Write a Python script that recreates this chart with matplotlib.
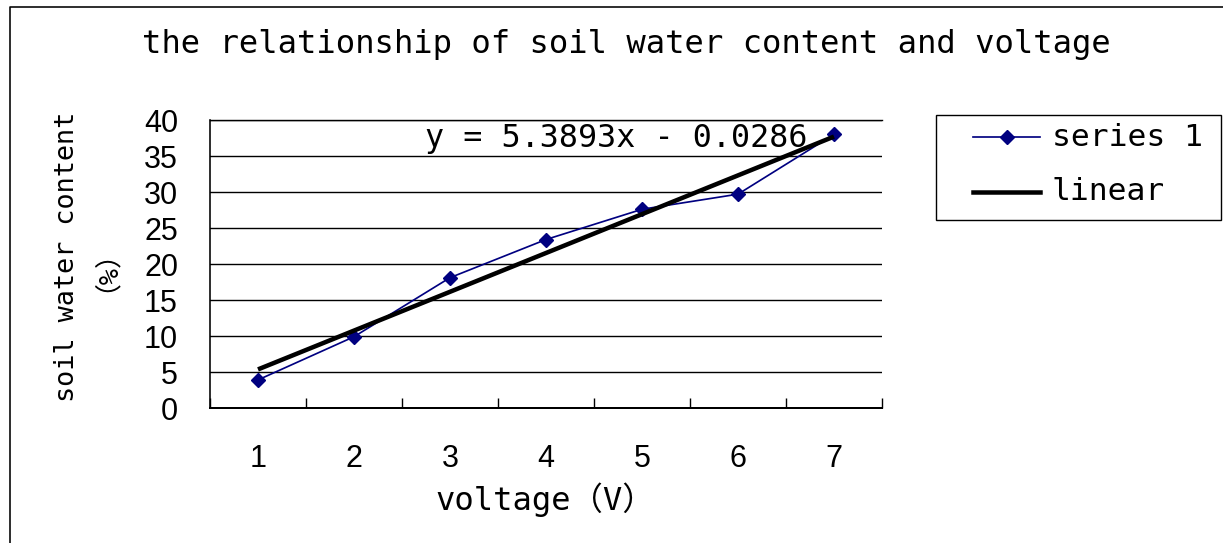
import matplotlib
matplotlib.use("Agg")
import matplotlib.pyplot as plt
from matplotlib.lines import Line2D
from matplotlib.patches import Rectangle
import numpy as np

# ---- data ----
categories = ["1", "2", "3", "4", "5", "6", "7"]
series1 = [3.9, 9.9, 18.1, 23.4, 27.6, 29.7, 38.0]
trend_slope = 5.3893
trend_intercept = -0.0286
y_ticks = [0, 5, 10, 15, 20, 25, 30, 35, 40]

title = "the relationship of soil water content and voltage"
x_label = "voltage（V）"
y_label = "soil water content\n（%）"
equation = "y = 5.3893x - 0.0286"
legend_labels = ["series 1", "linear"]

W, H = 1223, 543
MONO = ["DejaVu Sans Mono", "Noto Sans CJK SC"]
SANS = ["Liberation Sans", "DejaVu Sans"]
NAVY = "#000080"
PX = 0.72  # points per pixel at dpi 100

fig = plt.figure(figsize=(W / 100, H / 100), dpi=100)
fig.patch.set_facecolor("white")

def fx(px):
    return px / W

def fy(py):
    return 1 - py / H

# plot area: x 210..882, y 120..408 (pixels from top)
ax = fig.add_axes([fx(210), fy(408), fx(882) - fx(210), (408 - 120) / H])
ax.set_facecolor("white")

x = np.arange(1, len(categories) + 1)
ax.plot(x, series1, color=NAVY, lw=1.7 * PX, marker="D", ms=7,
        mfc=NAVY, mec=NAVY, zorder=4, clip_on=False)

xt = np.array([x[0], x[-1]], dtype=float)
ax.plot(xt, trend_slope * xt + trend_intercept, color="black",
        lw=4.5 * PX, zorder=5, solid_capstyle="butt", clip_on=False)

ax.set_xlim(0.5, len(categories) + 0.5)
ax.set_ylim(0, 40)

# y axis
ax.set_yticks(y_ticks)
ax.set_yticklabels([str(v) for v in y_ticks])
ax.tick_params(axis="y", length=0, pad=32 * PX, labelsize=22)
ax.yaxis.grid(True, color="black", lw=1.4 * PX)
ax.set_axisbelow(True)

# x axis: boundary ticks (major, inside), labels at category centres (minor)
ax.set_xticks(np.arange(0.5, len(categories) + 1, 1.0))
ax.set_xticklabels([])
ax.set_xticks(x, minor=True)
ax.set_xticklabels(categories, minor=True)
ax.tick_params(axis="x", which="major", direction="in", length=10 * PX,
               width=1.4 * PX, color="black")
ax.tick_params(axis="x", which="minor", length=0, pad=36 * PX, labelsize=22)

for lbl in ax.get_yticklabels() + ax.get_xticklabels(minor=True):
    lbl.set_fontfamily(SANS)

ax.spines["right"].set_visible(False)
ax.spines["top"].set_visible(True)
ax.spines["top"].set_linewidth(1.4 * PX)
ax.spines["left"].set_linewidth(1.6 * PX)
ax.spines["bottom"].set_linewidth(2 * PX)
for s in ax.spines.values():
    s.set_color("black")

# texts
fig.text(fx(626), fy(45), title, ha="center", va="center",
         fontsize=23.2, family=MONO)
fig.text(fx(545), fy(500), x_label, ha="center", va="center",
         fontsize=23.2, family=MONO)
fig.text(fx(80), fy(257), y_label, ha="center", va="center", rotation=90,
         fontsize=19.4, family=MONO, multialignment="center", linespacing=0.98)
fig.text(fx(425), fy(139), equation, ha="left", va="center",
         fontsize=22.9, family=MONO, zorder=6)

# legend (drawn in figure pixels)
fig.patches.append(Rectangle((fx(936), fy(220)), fx(1221) - fx(936),
                             (220 - 115) / H, transform=fig.transFigure,
                             fill=False, edgecolor="black", lw=1.4 * PX))
fig.lines.append(Line2D([fx(973), fx(1040)], [fy(137), fy(137)],
                        transform=fig.transFigure, color=NAVY, lw=1.7 * PX))
fig.lines.append(Line2D([fx(1006.5)], [fy(137)], transform=fig.transFigure,
                        color=NAVY, marker="D", ms=7, mfc=NAVY, mec=NAVY,
                        ls="none"))
fig.lines.append(Line2D([fx(973), fx(1040)], [fy(192), fy(192)],
                        transform=fig.transFigure, color="black", lw=4.5 * PX))
fig.text(fx(1052), fy(137), legend_labels[0], ha="left", va="center",
         fontsize=22.6, family=MONO)
fig.text(fx(1052), fy(192), legend_labels[1], ha="left", va="center",
         fontsize=22.6, family=MONO)

# outer chart border (left and top visible)
fig.lines.append(Line2D([fx(10), fx(10), fx(1223)], [fy(543), fy(7), fy(7)],
                        transform=fig.transFigure, color="black", lw=1.6 * PX))

fig.savefig("out.png", dpi=100, facecolor="white")
